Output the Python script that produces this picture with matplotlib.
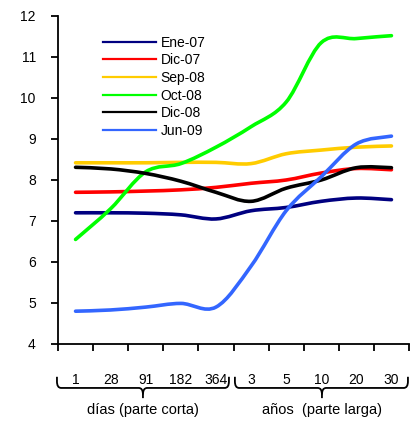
import matplotlib
matplotlib.use('Agg')
import matplotlib.pyplot as plt
from matplotlib.path import Path
from matplotlib.patches import PathPatch
from matplotlib.lines import Line2D
import matplotlib.transforms as mtransforms

plt.rcParams['font.family'] = ['Liberation Sans', 'DejaVu Sans']
plt.rcParams['font.size'] = 10

# plazos: dias (parte corta) y anos (parte larga)
plazos = ['1', '28', '91', '182', '364', '3', '5', '10', '20', '30']
series_names = ['Ene-07', 'Dic-07', 'Sep-08', 'Oct-08', 'Dic-08', 'Jun-09']
ene07 = [7.20, 7.20, 7.19, 7.15, 7.05, 7.25, 7.33, 7.48, 7.56, 7.52]
dic07 = [7.70, 7.71, 7.73, 7.76, 7.82, 7.92, 8.00, 8.17, 8.28, 8.25]
sep08 = [8.42, 8.42, 8.42, 8.43, 8.43, 8.40, 8.64, 8.73, 8.80, 8.83]
oct08 = [6.55, 7.30, 8.20, 8.40, 8.80, 9.30, 9.90, 11.35, 11.45, 11.52]
dic08 = [8.31, 8.27, 8.16, 7.97, 7.70, 7.48, 7.80, 8.00, 8.30, 8.30]
jun09 = [4.80, 4.83, 4.90, 4.99, 4.90, 5.90, 7.25, 8.08, 8.88, 9.07]
colors = ['#000080', '#FF0000', '#FFCC00', '#00FF00', '#000000', '#3366FF']


def smooth_path(xs, ys):
    # bezier segments like the spreadsheet "smoothed line"
    n = len(xs)
    verts = [(xs[0], ys[0])]
    codes = [Path.MOVETO]
    for i in range(n - 1):
        p0 = (xs[max(i - 1, 0)], ys[max(i - 1, 0)])
        p1 = (xs[i], ys[i])
        p2 = (xs[i + 1], ys[i + 1])
        p3 = (xs[min(i + 2, n - 1)], ys[min(i + 2, n - 1)])
        c1 = (p1[0] + (p2[0] - p0[0]) / 6, p1[1] + (p2[1] - p0[1]) / 6)
        c2 = (p2[0] - (p3[0] - p1[0]) / 6, p2[1] - (p3[1] - p1[1]) / 6)
        verts += [c1, c2, p2]
        codes += [Path.CURVE4] * 3
    return Path(verts, codes)


fig = plt.figure(figsize=(4.12, 4.21), dpi=100)
ax = fig.add_axes([0.1408, 0.1829, 0.8519, 0.7791])

xs = list(range(len(plazos)))
all_series = [ene07, dic07, sep08, oct08, dic08, jun09]
handles = []
for name, vals, c in zip(series_names, all_series, colors):
    patch = PathPatch(smooth_path(xs, vals), facecolor='none', edgecolor=c,
                      lw=2.6, capstyle='round', joinstyle='round')
    ax.add_patch(patch)
    handles.append(Line2D([], [], color=c, lw=1.6, label=name))

ax.set_xlim(-0.5, len(plazos) - 0.5)
ax.set_ylim(4, 12)
ax.set_yticks(range(4, 13))
ax.spines['top'].set_visible(False)
ax.spines['right'].set_visible(False)
ax.spines['left'].set_linewidth(1.3)
ax.spines['bottom'].set_linewidth(1.3)
ax.tick_params(axis='y', length=5, width=1.3, pad=11, labelsize=10)

ax.set_xticks([i - 0.5 for i in range(len(plazos) + 1)])
ax.set_xticklabels([])
ax.set_xticks(xs, minor=True)
ax.set_xticklabels(plazos, minor=True)
ax.tick_params(axis='x', which='major', length=5, width=1.3)
ax.tick_params(axis='x', which='minor', length=0, pad=21, labelsize=10)

ax.legend(handles=handles, loc='upper left', bbox_to_anchor=(0.128, 0.94),
          frameon=False, handlelength=3.8, handletextpad=0.36,
          labelspacing=0.26, borderpad=0, borderaxespad=0, fontsize=10)

# llaves bajo el eje
trans = mtransforms.blended_transform_factory(ax.transData, ax.transAxes)


def brace(x0, x1, xc, label):
    yt, yh, ytip = -0.100, -0.134, -0.165
    r, ry = 0.12, 0.02
    left = Path([(x0, yt), (x0, yh + ry), (x0, yh), (x0 + r, yh),
                 (xc - r, yh), (xc, yh), (xc, yh - ry), (xc, ytip)],
                [Path.MOVETO, Path.LINETO, Path.CURVE3, Path.CURVE3,
                 Path.LINETO, Path.CURVE3, Path.CURVE3, Path.LINETO])
    right = Path([(x1, yt), (x1, yh + ry), (x1, yh), (x1 - r, yh),
                  (xc + r, yh), (xc, yh), (xc, yh - ry)],
                 [Path.MOVETO, Path.LINETO, Path.CURVE3, Path.CURVE3,
                  Path.LINETO, Path.CURVE3, Path.CURVE3])
    for p in (left, right):
        ax.add_patch(PathPatch(p, facecolor='none', edgecolor='black',
                               lw=1.3, transform=trans, clip_on=False))
    ax.text(xc, -0.201, label, transform=trans, ha='center', va='center',
            fontsize=10.5)


brace(-0.53, 4.37, 1.92, 'días (parte corta)')
brace(4.54, 9.47, 7.02, 'años  (parte larga)')

fig.savefig('out.png', dpi=100)
